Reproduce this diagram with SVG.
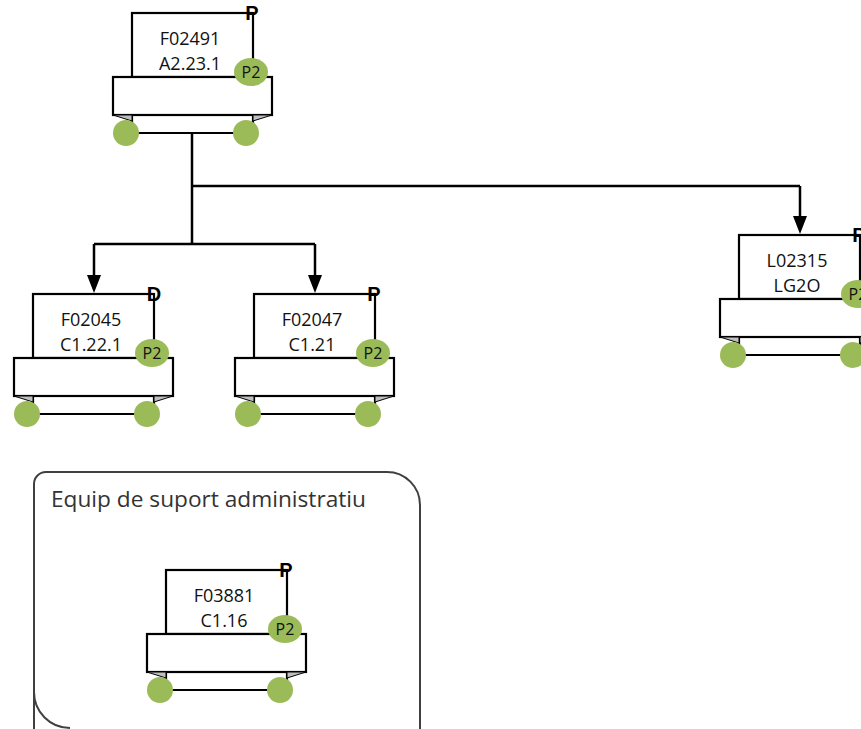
<svg xmlns="http://www.w3.org/2000/svg" xmlns:xlink="http://www.w3.org/1999/xlink" width="861" height="729" viewBox="0 0 861 729">
<style>
.ln{fill:#fff;stroke:#000;stroke-width:2.2}
.tri{fill:#BFBFBF;stroke:#000;stroke-width:1}
.dot{fill:#9BBB59}
.lbl{font-family:"Open Sans","Liberation Sans",sans-serif;font-size:18px;fill:#111;text-anchor:middle}
.p2{font-family:"Open Sans","Liberation Sans",sans-serif;font-size:16px;fill:#111;text-anchor:middle}
.mk{font-family:"Liberation Sans",Arial,sans-serif;font-size:20px;font-weight:bold;fill:#000;text-anchor:middle}
.con{fill:none;stroke:#000;stroke-width:2.5}
.title{font-family:"Open Sans","Liberation Sans",sans-serif;font-size:21px;fill:#333}
</style>
<defs>
<g id="shape">
<rect class="ln" x="0" y="0" width="121" height="64"/>
<path class="ln" d="M0,102 V120 H121 V102"/>
<rect class="ln" x="-19" y="64" width="159" height="38"/>
<path class="tri" d="M-19,102 L0,102 L0,108 Z"/>
<path class="tri" d="M121,102 L140,102 L121,108 Z"/>
<circle class="dot" cx="-6" cy="120" r="13"/>
<circle class="dot" cx="114" cy="120" r="13"/>
<ellipse class="dot" cx="119" cy="59" rx="17" ry="14"/>
<text class="p2" x="119" y="65">P2</text>
</g>
</defs>

<g id="container">
<path d="M46,472 H387 A33,33 0 0 1 420,505 V729 M34,729 V692 A36,36 0 0 0 70,728 M34,692 V484 A12,12 0 0 1 46,472" fill="none" stroke="#404040" stroke-width="2"/>
<text class="title" x="51" y="507" textLength="315" lengthAdjust="spacingAndGlyphs">Equip de suport administratiu</text>
</g>

<g id="connectors">
<path class="con" d="M192,133 V244 M94,244 H315 M192,186 H800"/>
<path class="con" d="M94,244 V276 M315,244 V276 M800,186 V217"/>
<path d="M87,275 H101 L94,293 Z M308,275 H322 L315,293 Z M793,216 H807 L800,234 Z" fill="#000"/>
</g>

<g id="F02491">
<use xlink:href="#shape" x="132" y="13"/>
<text class="lbl" x="190" y="45">F02491</text>
<text class="lbl" x="190" y="70">A2.23.1</text>
<text class="mk" x="252" y="20">P</text>
</g>

<g id="F02045">
<use xlink:href="#shape" x="33" y="294"/>
<text class="lbl" x="91" y="326">F02045</text>
<text class="lbl" x="91" y="351">C1.22.1</text>
<text class="mk" x="154" y="301">D</text>
</g>

<g id="F02047">
<use xlink:href="#shape" x="254" y="294"/>
<text class="lbl" x="312" y="326">F02047</text>
<text class="lbl" x="312" y="351">C1.21</text>
<text class="mk" x="374" y="301">P</text>
</g>

<g id="L02315">
<use xlink:href="#shape" x="739" y="235"/>
<text class="lbl" x="797" y="267">L02315</text>
<text class="lbl" x="797" y="292">LG2O</text>
<text class="mk" x="859" y="242">P</text>
</g>

<g id="F03881">
<use xlink:href="#shape" x="166" y="570"/>
<text class="lbl" x="224" y="602">F03881</text>
<text class="lbl" x="224" y="627">C1.16</text>
<text class="mk" x="286" y="577">P</text>
</g>
</svg>
